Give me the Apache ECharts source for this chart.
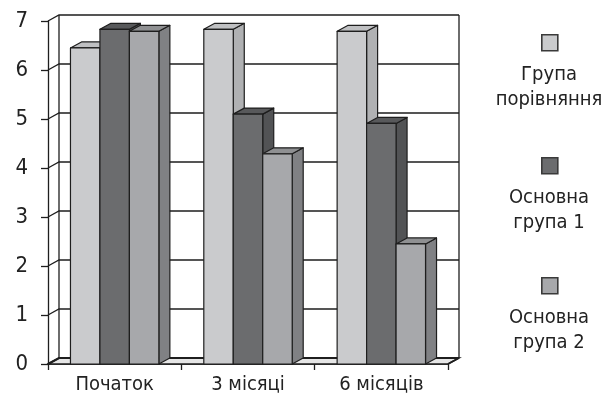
<!DOCTYPE html>
<html>
<head>
<meta charset="utf-8">
<script src="https://cdn.jsdelivr.net/npm/echarts@6/dist/echarts.min.js"></script>
<style>
  html, body { margin: 0; padding: 0; background: #ffffff; }
  #chart { width: 603px; height: 398px; }
</style>
</head>
<body>
<div id="chart"></div>
<script>
// Categories and series values
const categories = ['Початок', '3 місяці', '6 місяців'];
const seriesNames = ['Група порівняння', 'Основна група 1', 'Основна група 2'];
const groupCompare = [6.45, 6.83, 6.79];
const groupMain1 = [6.83, 5.10, 4.91];
const groupMain2 = [6.79, 4.29, 2.45];
const yTicks = [0, 1, 2, 3, 4, 5, 6, 7];

// Face colours per series: front, top, side
const faceColors = [
  { front: '#cacbcd', top: '#bfc0c2', side: '#b0b1b3' },
  { front: '#6b6c6e', top: '#58595b', side: '#525355' },
  { front: '#a7a8ab', top: '#8f9092', side: '#808184' }
];

const FONT = "'DejaVu Sans Condensed', 'Liberation Sans Narrow', sans-serif";
const DX = 11, DY = 6;        // depth offset of the 3D box
const LINE = '#1e1e1e';

const chart = echarts.init(document.getElementById('chart'), null, { renderer: 'canvas' });

// Box walls: floor, side wall, back wall with gridlines
function renderWalls(params, api) {
  const cs = params.coordSys;
  const x0 = cs.x, x1 = cs.x + cs.width;
  const yb = api.coord([0, 0])[1];
  const children = [];
  children.push({
    type: 'polygon',
    shape: { points: [[x0, yb], [x1, yb], [x1 + DX, yb - DY], [x0 + DX, yb - DY]] },
    style: { fill: '#e6e6e6', stroke: LINE, lineWidth: 1.5 }
  });
  yTicks.forEach(function (t) {
    const y = api.coord([0, t])[1];
    children.push({
      type: 'polyline',
      shape: { points: [[x0, y], [x0 + DX, y - DY], [x1 + DX, y - DY]] },
      style: { fill: null, stroke: LINE, lineWidth: t === 0 ? 2.2 : 1.3 }
    });
  });
  const yTop = api.coord([0, yTicks[yTicks.length - 1]])[1];
  children.push({
    type: 'line',
    shape: { x1: x0 + DX, y1: yTop - DY, x2: x0 + DX, y2: yb - DY },
    style: { stroke: LINE, lineWidth: 1.3 }
  });
  children.push({
    type: 'line',
    shape: { x1: x1 + DX, y1: yTop - DY, x2: x1 + DX, y2: yb - DY },
    style: { stroke: LINE, lineWidth: 1.3 }
  });
  children.push({
    type: 'line',
    shape: { x1: x1, y1: yb, x2: x1 + DX, y2: yb - DY },
    style: { stroke: LINE, lineWidth: 1.5 }
  });
  return { type: 'group', children: children };
}

// One 3D column: front face, top face, right side face
function makeBarRenderer(seriesIdx) {
  return function (params, api) {
    const idx = api.value(0);
    const val = api.value(1);
    const catW = api.size([1, 0])[0];
    const bw = catW * 0.221;
    const top = api.coord([idx, val]);
    const base = api.coord([idx, 0]);
    const x = top[0] - 1.5 * bw + seriesIdx * bw;
    const yt = top[1], yb = base[1];
    const c = faceColors[seriesIdx];
    const st = { stroke: LINE, lineWidth: 1.2, lineJoin: 'round' };
    return {
      type: 'group',
      children: [
        {
          type: 'polygon',
          shape: { points: [[x + bw, yt], [x + bw + DX, yt - DY], [x + bw + DX, yb - DY], [x + bw, yb]] },
          style: Object.assign({ fill: c.side }, st)
        },
        {
          type: 'polygon',
          shape: { points: [[x, yt], [x + DX, yt - DY], [x + bw + DX, yt - DY], [x + bw, yt]] },
          style: Object.assign({ fill: c.top }, st)
        },
        {
          type: 'rect',
          shape: { x: x, y: yt, width: bw, height: yb - yt },
          style: Object.assign({ fill: c.front }, st)
        }
      ]
    };
  };
}

const seriesValues = [groupCompare, groupMain1, groupMain2];

const series = [{
  type: 'custom',
  name: 'walls',
  silent: true,
  z: 1,
  data: [[0, 0]],
  renderItem: renderWalls
}];
seriesValues.forEach(function (vals, i) {
  series.push({
    type: 'custom',
    name: seriesNames[i],
    z: 3 + i,
    data: vals.map(function (v, k) { return [k, v]; }),
    encode: { x: 0, y: 1 },
    renderItem: makeBarRenderer(i)
  });
});

// Legend: swatch above a two-line label
const legendItems = [
  { lines: ['Група', 'порівняння'], y: 34 },
  { lines: ['Основна', 'група 1'], y: 157 },
  { lines: ['Основна', 'група 2'], y: 277 }
];
const graphic = [];
legendItems.forEach(function (item, i) {
  graphic.push({
    type: 'rect',
    left: 541, top: item.y,
    shape: { x: 0, y: 0, width: 16, height: 16 },
    style: { fill: faceColors[i].front, stroke: '#3a3a3a', lineWidth: 1.6 }
  });
  item.lines.forEach(function (txt, j) {
    graphic.push({
      type: 'text',
      x: 549, y: item.y + 41 + j * 25,
      style: {
        text: txt, fill: '#222', font: '20px ' + FONT,
        textAlign: 'center', textVerticalAlign: 'middle'
      }
    });
  });
});

chart.setOption({
  animation: false,
  grid: { left: 48, right: 155, top: 21, bottom: 34, containLabel: false },
  xAxis: {
    type: 'category',
    data: categories,
    boundaryGap: true,
    axisLine: { show: true, lineStyle: { color: LINE, width: 1.5 } },
    axisTick: { show: true, length: 6, lineStyle: { color: LINE, width: 1.3 } },
    axisLabel: { color: '#222', fontSize: 20, fontFamily: FONT, margin: 11 },
    splitLine: { show: false }
  },
  yAxis: {
    type: 'value',
    min: 0, max: 7, interval: 1,
    axisLine: { show: true, lineStyle: { color: LINE, width: 1.3 } },
    axisTick: { show: true, length: 7, lineStyle: { color: LINE, width: 1.3 } },
    axisLabel: { color: '#222', fontSize: 22, fontFamily: FONT, margin: 20 },
    splitLine: { show: false }
  },
  graphic: graphic,
  series: series
});
</script>
</body>
</html>
